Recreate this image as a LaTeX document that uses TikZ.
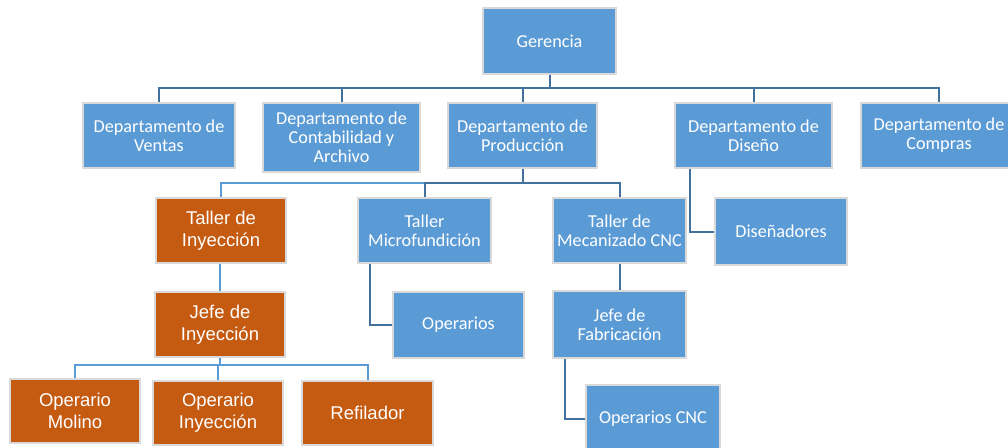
\documentclass[tikz,border=0pt]{standalone}
\usepackage{fontspec}
\newfontfamily\calib{Carlito}
\newfontfamily\arialf{Liberation Sans}
\definecolor{boxblue}{HTML}{5B9BD5}
\definecolor{boxorange}{HTML}{C55A11}
\definecolor{linedark}{HTML}{41719C}
\definecolor{linelight}{HTML}{5B9BD5}
\definecolor{edgegray}{HTML}{D9D9D9}
\tikzset{
  bbox/.style={rectangle, fill=boxblue, draw=edgegray, line width=1.2pt, text=white,
    align=center, inner sep=0pt, font=\calib\fontsize{18.2}{19}\selectfont},
  obox/.style={rectangle, fill=boxorange, draw=edgegray, line width=1.2pt, text=white,
    align=center, inner sep=0pt, font=\arialf\fontsize{18.5}{22}\selectfont},
  sz/.style 2 args={minimum width=#1pt, minimum height=#2pt},
  dline/.style={draw=linedark, line width=2pt},
  lline/.style={draw=linelight, line width=2pt},
}
\begin{document}
\begin{tikzpicture}[x=1pt,y=-1pt]
\clip (0,0) rectangle (1008,447);
\fill[white] (0,0) rectangle (1008,447);
% nodes
\node[bbox, sz={133}{66}] (ger) at (549.5,41) {Gerencia};
\node[bbox, sz={152}{65}] (ven) at (159,135.5) {Departamento de\\Ventas};
\node[bbox, sz={157}{69}] (con) at (341.5,137.5) {Departamento de\\Contabilidad y\\Archivo};
\node[bbox, sz={149}{65}] (pro) at (522.5,135.5) {Departamento de\\Producción};
\node[bbox, sz={157}{65}] (dis) at (753.5,135.5) {Departamento de\\Diseño};
\node[bbox, sz={156}{65}] (com) at (939,135.5) {Departamento de\\Compras};
\node[obox, sz={130}{65}] (tin) at (221,230.5) {Taller de\\Inyección};
\node[bbox, sz={133}{65}] (mic) at (424.5,230.5) {Taller\\Microfundición};
\node[bbox, sz={133}{65}] (mec) at (619.5,230.5) {Taller de\\Mecanizado CNC};
\node[bbox, sz={132}{67}] (dsn) at (781,231.5) {Diseñadores};
\node[obox, sz={130}{65}] (jin) at (220,324.5) {Jefe de\\Inyección};
\node[bbox, sz={131}{66}] (ope) at (458.5,325) {Operarios};
\node[bbox, sz={133}{67}] (jfa) at (619.5,324.5) {Jefe de\\Fabricación};
\node[obox, sz={130}{64}] (omo) at (75,411) {Operario\\Molino};
\node[obox, sz={130}{64}] (oin) at (218,413) {Operario\\Inyección};
\node[obox, sz={131}{64}] (ref) at (367.5,413) {Refilador};
\node[bbox, sz={134}{67}] (ocn) at (653,418.5) {Operarios CNC};
% bus coordinates
\coordinate (bus1) at (0,88);
\coordinate (bus2) at (0,183);
\coordinate (bus3) at (0,365);
% connectors
\foreach \c in {ven,con,pro,dis,com}
  \draw[dline] (ger.south) -- (ger.south |- bus1) -| (\c.north);
\draw[lline] (pro.south) -- (pro.south |- bus2) -| (tin.north);
\foreach \c in {mic,mec}
  \draw[dline] (pro.south) -- (pro.south |- bus2) -| (\c.north);
\draw[dline] ([xshift=16pt]dis.south west) |- (dsn.west);
\draw[lline] (jin.north) -- (jin.north |- tin.south);
\draw[dline] ([xshift=13pt]mic.south west) |- (ope.west);
\draw[dline] (jfa.north) -- (mec.south);
\draw[dline] ([xshift=13pt]jfa.south west) |- (ocn.west);
\foreach \c in {omo,oin,ref}
  \draw[lline] (jin.south) -- (jin.south |- bus3) -| (\c.north);
\end{tikzpicture}
\end{document}
